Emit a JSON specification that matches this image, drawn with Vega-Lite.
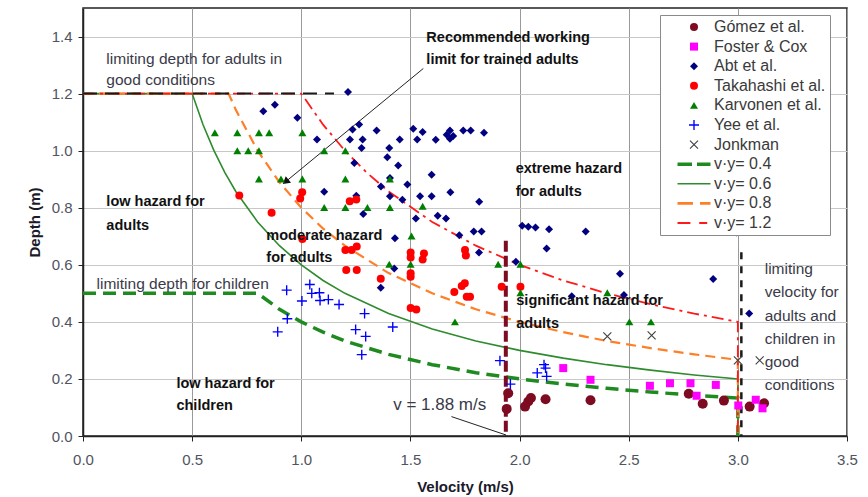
{
  "$schema": "https://vega.github.io/schema/vega-lite/v6.json",
  "width": 764,
  "height": 428,
  "autosize": {"type": "none"},
  "padding": {"left": 83, "top": 8, "right": 21, "bottom": 61},
  "background": "white",
  "config": {
    "view": {"stroke": "#222222", "strokeWidth": 1.5},
    "font": "Liberation Sans"
  },
  "datasets": {
    "pts": [
      {"series": "Gómez et al.", "v": 1.948, "d": 0.150},
      {"series": "Gómez et al.", "v": 1.941, "d": 0.095},
      {"series": "Gómez et al.", "v": 2.025, "d": 0.103},
      {"series": "Gómez et al.", "v": 2.040, "d": 0.121},
      {"series": "Gómez et al.", "v": 2.052, "d": 0.133},
      {"series": "Gómez et al.", "v": 2.119, "d": 0.129},
      {"series": "Gómez et al.", "v": 2.325, "d": 0.125},
      {"series": "Gómez et al.", "v": 2.775, "d": 0.148},
      {"series": "Gómez et al.", "v": 2.839, "d": 0.113},
      {"series": "Gómez et al.", "v": 2.936, "d": 0.124},
      {"series": "Gómez et al.", "v": 3.054, "d": 0.103},
      {"series": "Gómez et al.", "v": 3.120, "d": 0.115},
      {"series": "Foster & Cox", "v": 2.200, "d": 0.238},
      {"series": "Foster & Cox", "v": 2.325, "d": 0.197},
      {"series": "Foster & Cox", "v": 2.597, "d": 0.176},
      {"series": "Foster & Cox", "v": 2.689, "d": 0.185},
      {"series": "Foster & Cox", "v": 2.783, "d": 0.185},
      {"series": "Foster & Cox", "v": 2.899, "d": 0.179},
      {"series": "Foster & Cox", "v": 2.811, "d": 0.141},
      {"series": "Foster & Cox", "v": 3.002, "d": 0.107},
      {"series": "Foster & Cox", "v": 3.082, "d": 0.127},
      {"series": "Foster & Cox", "v": 3.113, "d": 0.097},
      {"series": "Abt et al.", "v": 1.214, "d": 1.206},
      {"series": "Abt et al.", "v": 0.879, "d": 1.161},
      {"series": "Abt et al.", "v": 0.826, "d": 1.138},
      {"series": "Abt et al.", "v": 0.982, "d": 1.115},
      {"series": "Abt et al.", "v": 1.072, "d": 1.039},
      {"series": "Abt et al.", "v": 1.235, "d": 1.074},
      {"series": "Abt et al.", "v": 1.265, "d": 1.092},
      {"series": "Abt et al.", "v": 1.223, "d": 1.039},
      {"series": "Abt et al.", "v": 1.281, "d": 1.039},
      {"series": "Abt et al.", "v": 1.345, "d": 1.071},
      {"series": "Abt et al.", "v": 1.276, "d": 1.009},
      {"series": "Abt et al.", "v": 1.243, "d": 0.957},
      {"series": "Abt et al.", "v": 1.403, "d": 1.009},
      {"series": "Abt et al.", "v": 1.394, "d": 0.977},
      {"series": "Abt et al.", "v": 1.451, "d": 1.039},
      {"series": "Abt et al.", "v": 1.444, "d": 0.948},
      {"series": "Abt et al.", "v": 1.513, "d": 1.077},
      {"series": "Abt et al.", "v": 1.531, "d": 1.039},
      {"series": "Abt et al.", "v": 1.406, "d": 0.904},
      {"series": "Abt et al.", "v": 1.365, "d": 0.874},
      {"series": "Abt et al.", "v": 1.486, "d": 0.881},
      {"series": "Abt et al.", "v": 1.406, "d": 0.840},
      {"series": "Abt et al.", "v": 1.105, "d": 0.856},
      {"series": "Abt et al.", "v": 1.252, "d": 0.842},
      {"series": "Abt et al.", "v": 1.284, "d": 0.778},
      {"series": "Abt et al.", "v": 1.463, "d": 0.828},
      {"series": "Abt et al.", "v": 1.429, "d": 0.693},
      {"series": "Abt et al.", "v": 1.556, "d": 1.065},
      {"series": "Abt et al.", "v": 1.616, "d": 1.038},
      {"series": "Abt et al.", "v": 1.666, "d": 1.056},
      {"series": "Abt et al.", "v": 1.681, "d": 1.071},
      {"series": "Abt et al.", "v": 1.681, "d": 1.042},
      {"series": "Abt et al.", "v": 1.696, "d": 1.051},
      {"series": "Abt et al.", "v": 1.742, "d": 1.071},
      {"series": "Abt et al.", "v": 1.776, "d": 1.071},
      {"series": "Abt et al.", "v": 1.837, "d": 1.063},
      {"series": "Abt et al.", "v": 1.597, "d": 0.916},
      {"series": "Abt et al.", "v": 1.544, "d": 0.840},
      {"series": "Abt et al.", "v": 1.597, "d": 0.840},
      {"series": "Abt et al.", "v": 1.683, "d": 0.854},
      {"series": "Abt et al.", "v": 1.815, "d": 0.821},
      {"series": "Abt et al.", "v": 1.525, "d": 0.762},
      {"series": "Abt et al.", "v": 1.625, "d": 0.772},
      {"series": "Abt et al.", "v": 1.663, "d": 0.762},
      {"series": "Abt et al.", "v": 1.724, "d": 0.704},
      {"series": "Abt et al.", "v": 1.790, "d": 0.717},
      {"series": "Abt et al.", "v": 1.826, "d": 0.717},
      {"series": "Abt et al.", "v": 2.012, "d": 0.737},
      {"series": "Abt et al.", "v": 2.040, "d": 0.733},
      {"series": "Abt et al.", "v": 2.073, "d": 0.731},
      {"series": "Abt et al.", "v": 2.135, "d": 0.725},
      {"series": "Abt et al.", "v": 2.303, "d": 0.717},
      {"series": "Abt et al.", "v": 1.364, "d": 0.520},
      {"series": "Abt et al.", "v": 1.426, "d": 0.587},
      {"series": "Abt et al.", "v": 1.814, "d": 0.643},
      {"series": "Abt et al.", "v": 2.124, "d": 0.657},
      {"series": "Abt et al.", "v": 1.983, "d": 0.611},
      {"series": "Abt et al.", "v": 2.460, "d": 0.569},
      {"series": "Abt et al.", "v": 2.239, "d": 0.490},
      {"series": "Abt et al.", "v": 2.478, "d": 0.494},
      {"series": "Abt et al.", "v": 2.887, "d": 0.550},
      {"series": "Abt et al.", "v": 3.052, "d": 0.429},
      {"series": "Abt et al.", "v": 2.993, "d": 0.713},
      {"series": "Takahashi et al.", "v": 0.716, "d": 0.843},
      {"series": "Takahashi et al.", "v": 0.864, "d": 0.782},
      {"series": "Takahashi et al.", "v": 1.004, "d": 0.854},
      {"series": "Takahashi et al.", "v": 0.995, "d": 0.832},
      {"series": "Takahashi et al.", "v": 1.222, "d": 0.823},
      {"series": "Takahashi et al.", "v": 1.252, "d": 0.829},
      {"series": "Takahashi et al.", "v": 1.005, "d": 0.690},
      {"series": "Takahashi et al.", "v": 1.202, "d": 0.652},
      {"series": "Takahashi et al.", "v": 1.231, "d": 0.652},
      {"series": "Takahashi et al.", "v": 1.254, "d": 0.664},
      {"series": "Takahashi et al.", "v": 1.206, "d": 0.582},
      {"series": "Takahashi et al.", "v": 1.254, "d": 0.582},
      {"series": "Takahashi et al.", "v": 1.364, "d": 0.551},
      {"series": "Takahashi et al.", "v": 1.501, "d": 0.643},
      {"series": "Takahashi et al.", "v": 1.501, "d": 0.626},
      {"series": "Takahashi et al.", "v": 1.501, "d": 0.570},
      {"series": "Takahashi et al.", "v": 1.501, "d": 0.558},
      {"series": "Takahashi et al.", "v": 1.501, "d": 0.449},
      {"series": "Takahashi et al.", "v": 1.527, "d": 0.443},
      {"series": "Takahashi et al.", "v": 1.562, "d": 0.640},
      {"series": "Takahashi et al.", "v": 1.556, "d": 0.619},
      {"series": "Takahashi et al.", "v": 1.750, "d": 0.652},
      {"series": "Takahashi et al.", "v": 1.754, "d": 0.633},
      {"series": "Takahashi et al.", "v": 1.749, "d": 0.535},
      {"series": "Takahashi et al.", "v": 1.735, "d": 0.526},
      {"series": "Takahashi et al.", "v": 1.701, "d": 0.505},
      {"series": "Takahashi et al.", "v": 1.758, "d": 0.488},
      {"series": "Takahashi et al.", "v": 1.773, "d": 0.488},
      {"series": "Takahashi et al.", "v": 1.918, "d": 0.523},
      {"series": "Takahashi et al.", "v": 2.004, "d": 0.523},
      {"series": "Karvonen et al.", "v": 0.604, "d": 1.063},
      {"series": "Karvonen et al.", "v": 0.707, "d": 1.063},
      {"series": "Karvonen et al.", "v": 0.806, "d": 1.063},
      {"series": "Karvonen et al.", "v": 0.853, "d": 1.063},
      {"series": "Karvonen et al.", "v": 1.005, "d": 1.063},
      {"series": "Karvonen et al.", "v": 0.707, "d": 1.000},
      {"series": "Karvonen et al.", "v": 0.757, "d": 1.000},
      {"series": "Karvonen et al.", "v": 0.806, "d": 1.000},
      {"series": "Karvonen et al.", "v": 1.105, "d": 1.000},
      {"series": "Karvonen et al.", "v": 1.202, "d": 1.000},
      {"series": "Karvonen et al.", "v": 0.806, "d": 0.901},
      {"series": "Karvonen et al.", "v": 0.907, "d": 0.901},
      {"series": "Karvonen et al.", "v": 1.005, "d": 0.901},
      {"series": "Karvonen et al.", "v": 1.202, "d": 0.901},
      {"series": "Karvonen et al.", "v": 1.406, "d": 0.901},
      {"series": "Karvonen et al.", "v": 1.105, "d": 0.801},
      {"series": "Karvonen et al.", "v": 1.202, "d": 0.801},
      {"series": "Karvonen et al.", "v": 1.303, "d": 0.801},
      {"series": "Karvonen et al.", "v": 1.406, "d": 0.801},
      {"series": "Karvonen et al.", "v": 1.556, "d": 0.805},
      {"series": "Karvonen et al.", "v": 1.505, "d": 0.701},
      {"series": "Karvonen et al.", "v": 1.403, "d": 0.602},
      {"series": "Karvonen et al.", "v": 1.501, "d": 0.602},
      {"series": "Karvonen et al.", "v": 1.902, "d": 0.602},
      {"series": "Karvonen et al.", "v": 2.004, "d": 0.602},
      {"series": "Karvonen et al.", "v": 2.004, "d": 0.502},
      {"series": "Karvonen et al.", "v": 2.402, "d": 0.502},
      {"series": "Karvonen et al.", "v": 1.704, "d": 0.400},
      {"series": "Karvonen et al.", "v": 2.503, "d": 0.400},
      {"series": "Karvonen et al.", "v": 2.602, "d": 0.400},
      {"series": "Yee et al.", "v": 0.933, "d": 0.511},
      {"series": "Yee et al.", "v": 1.039, "d": 0.531},
      {"series": "Yee et al.", "v": 1.048, "d": 0.500},
      {"series": "Yee et al.", "v": 1.083, "d": 0.502},
      {"series": "Yee et al.", "v": 1.003, "d": 0.473},
      {"series": "Yee et al.", "v": 1.086, "d": 0.475},
      {"series": "Yee et al.", "v": 1.124, "d": 0.478},
      {"series": "Yee et al.", "v": 1.173, "d": 0.461},
      {"series": "Yee et al.", "v": 0.936, "d": 0.411},
      {"series": "Yee et al.", "v": 0.892, "d": 0.365},
      {"series": "Yee et al.", "v": 1.290, "d": 0.429},
      {"series": "Yee et al.", "v": 1.249, "d": 0.373},
      {"series": "Yee et al.", "v": 1.295, "d": 0.349},
      {"series": "Yee et al.", "v": 1.277, "d": 0.285},
      {"series": "Yee et al.", "v": 1.419, "d": 0.382},
      {"series": "Yee et al.", "v": 1.910, "d": 0.264},
      {"series": "Yee et al.", "v": 1.958, "d": 0.182},
      {"series": "Yee et al.", "v": 2.081, "d": 0.221},
      {"series": "Yee et al.", "v": 2.112, "d": 0.250},
      {"series": "Yee et al.", "v": 2.119, "d": 0.238},
      {"series": "Yee et al.", "v": 2.124, "d": 0.209},
      {"series": "Jonkman", "v": 2.402, "d": 0.349},
      {"series": "Jonkman", "v": 2.605, "d": 0.353},
      {"series": "Jonkman", "v": 3.000, "d": 0.265},
      {"series": "Jonkman", "v": 3.100, "d": 0.265}
    ],
    "curves": [
      {"series": "v·y= 0.4", "v": 0, "d": 0.5},
      {"series": "v·y= 0.4", "v": 0.8, "d": 0.5},
      {"series": "v·y= 0.4", "v": 0.9, "d": 0.444},
      {"series": "v·y= 0.4", "v": 1.0, "d": 0.4},
      {"series": "v·y= 0.4", "v": 1.1, "d": 0.364},
      {"series": "v·y= 0.4", "v": 1.2, "d": 0.333},
      {"series": "v·y= 0.4", "v": 1.4, "d": 0.286},
      {"series": "v·y= 0.4", "v": 1.6, "d": 0.25},
      {"series": "v·y= 0.4", "v": 1.8, "d": 0.222},
      {"series": "v·y= 0.4", "v": 2.0, "d": 0.2},
      {"series": "v·y= 0.4", "v": 2.2, "d": 0.182},
      {"series": "v·y= 0.4", "v": 2.4, "d": 0.167},
      {"series": "v·y= 0.4", "v": 2.6, "d": 0.154},
      {"series": "v·y= 0.4", "v": 2.8, "d": 0.143},
      {"series": "v·y= 0.4", "v": 3.0, "d": 0.133},
      {"series": "v·y= 0.4", "v": 3.0, "d": 0},
      {"series": "v·y= 0.6", "v": 0, "d": 1.2},
      {"series": "v·y= 0.6", "v": 0.5, "d": 1.2},
      {"series": "v·y= 0.6", "v": 0.55, "d": 1.091},
      {"series": "v·y= 0.6", "v": 0.6, "d": 1.0},
      {"series": "v·y= 0.6", "v": 0.65, "d": 0.923},
      {"series": "v·y= 0.6", "v": 0.7, "d": 0.857},
      {"series": "v·y= 0.6", "v": 0.8, "d": 0.75},
      {"series": "v·y= 0.6", "v": 0.9, "d": 0.667},
      {"series": "v·y= 0.6", "v": 1.0, "d": 0.6},
      {"series": "v·y= 0.6", "v": 1.1, "d": 0.545},
      {"series": "v·y= 0.6", "v": 1.2, "d": 0.5},
      {"series": "v·y= 0.6", "v": 1.4, "d": 0.429},
      {"series": "v·y= 0.6", "v": 1.6, "d": 0.375},
      {"series": "v·y= 0.6", "v": 1.8, "d": 0.333},
      {"series": "v·y= 0.6", "v": 2.0, "d": 0.3},
      {"series": "v·y= 0.6", "v": 2.2, "d": 0.273},
      {"series": "v·y= 0.6", "v": 2.4, "d": 0.25},
      {"series": "v·y= 0.6", "v": 2.6, "d": 0.231},
      {"series": "v·y= 0.6", "v": 2.8, "d": 0.214},
      {"series": "v·y= 0.6", "v": 3.0, "d": 0.2},
      {"series": "v·y= 0.6", "v": 3.0, "d": 0},
      {"series": "v·y= 0.8", "v": 0, "d": 1.2},
      {"series": "v·y= 0.8", "v": 0.667, "d": 1.2},
      {"series": "v·y= 0.8", "v": 0.7, "d": 1.143},
      {"series": "v·y= 0.8", "v": 0.8, "d": 1.0},
      {"series": "v·y= 0.8", "v": 0.9, "d": 0.889},
      {"series": "v·y= 0.8", "v": 1.0, "d": 0.8},
      {"series": "v·y= 0.8", "v": 1.1, "d": 0.727},
      {"series": "v·y= 0.8", "v": 1.2, "d": 0.667},
      {"series": "v·y= 0.8", "v": 1.4, "d": 0.571},
      {"series": "v·y= 0.8", "v": 1.6, "d": 0.5},
      {"series": "v·y= 0.8", "v": 1.8, "d": 0.444},
      {"series": "v·y= 0.8", "v": 2.0, "d": 0.4},
      {"series": "v·y= 0.8", "v": 2.2, "d": 0.364},
      {"series": "v·y= 0.8", "v": 2.4, "d": 0.333},
      {"series": "v·y= 0.8", "v": 2.6, "d": 0.308},
      {"series": "v·y= 0.8", "v": 2.8, "d": 0.286},
      {"series": "v·y= 0.8", "v": 3.0, "d": 0.267},
      {"series": "v·y= 0.8", "v": 3.0, "d": 0},
      {"series": "v·y= 1.2", "v": 0, "d": 1.2},
      {"series": "v·y= 1.2", "v": 1.0, "d": 1.2},
      {"series": "v·y= 1.2", "v": 1.1, "d": 1.091},
      {"series": "v·y= 1.2", "v": 1.2, "d": 1.0},
      {"series": "v·y= 1.2", "v": 1.3, "d": 0.923},
      {"series": "v·y= 1.2", "v": 1.4, "d": 0.857},
      {"series": "v·y= 1.2", "v": 1.6, "d": 0.75},
      {"series": "v·y= 1.2", "v": 1.8, "d": 0.667},
      {"series": "v·y= 1.2", "v": 2.0, "d": 0.6},
      {"series": "v·y= 1.2", "v": 2.2, "d": 0.545},
      {"series": "v·y= 1.2", "v": 2.4, "d": 0.5},
      {"series": "v·y= 1.2", "v": 2.6, "d": 0.462},
      {"series": "v·y= 1.2", "v": 2.8, "d": 0.429},
      {"series": "v·y= 1.2", "v": 3.0, "d": 0.4},
      {"series": "v·y= 1.2", "v": 3.0, "d": 0}
    ],
    "notes": [
      {"t": "limiting depth for adults in", "v": 0.107, "d": 1.322},
      {"t": "good conditions", "v": 0.107, "d": 1.247},
      {"t": "limiting depth for children", "v": 0.062, "d": 0.531},
      {"t": "limiting", "v": 3.123, "d": 0.584},
      {"t": "velocity for", "v": 3.123, "d": 0.504},
      {"t": "adults and", "v": 3.123, "d": 0.422},
      {"t": "children in", "v": 3.123, "d": 0.341},
      {"t": "good", "v": 3.123, "d": 0.261},
      {"t": "conditions", "v": 3.123, "d": 0.179}
    ],
    "speedNote": [
      {"t": "v = 1.88 m/s", "v": 1.421, "d": 0.107}
    ],
    "boldNotes": [
      {"t": "Recommended working", "v": 1.573, "d": 1.396},
      {"t": "limit for trained adults", "v": 1.573, "d": 1.317},
      {"t": "low hazard for", "v": 0.107, "d": 0.819},
      {"t": "adults", "v": 0.107, "d": 0.737},
      {"t": "moderate hazard", "v": 0.84, "d": 0.701},
      {"t": "for adults", "v": 0.84, "d": 0.623},
      {"t": "extreme hazard", "v": 1.982, "d": 0.934},
      {"t": "for adults", "v": 1.982, "d": 0.854},
      {"t": "significant hazard for", "v": 1.985, "d": 0.473},
      {"t": "adults", "v": 1.985, "d": 0.393},
      {"t": "low hazard for", "v": 0.428, "d": 0.182},
      {"t": "children", "v": 0.428, "d": 0.106}
    ]
  },
  "encoding": {
    "x": {
      "field": "v", "type": "quantitative",
      "scale": {"domain": [0, 3.5], "nice": false, "zero": false},
      "axis": {
        "values": [0, 0.5, 1, 1.5, 2, 2.5, 3, 3.5], "format": ".1f",
        "title": "Velocity (m/s)", "grid": true, "gridColor": "#9a9a9a", "gridWidth": 1,
        "tickSize": 5, "tickColor": "#222222", "domainColor": "#222222", "domainWidth": 1.5,
        "labelFont": "Liberation Sans", "labelFontSize": 15, "labelColor": "#4f5461",
        "labelPadding": 11, "labelFlush": false, "labelOverlap": false,
        "titleFont": "Liberation Sans", "titleFontSize": 15, "titleFontWeight": "bold",
        "titleColor": "#1a1a2a", "titlePadding": 12
      }
    },
    "y": {
      "field": "d", "type": "quantitative",
      "scale": {"domain": [0, 1.5], "nice": false, "zero": false},
      "axis": {
        "values": [0, 0.2, 0.4, 0.6, 0.8, 1.0, 1.2, 1.4], "format": ".1f",
        "title": "Depth (m)", "grid": true, "gridColor": "#c8c8c8", "gridWidth": 1,
        "tickSize": 5, "tickColor": "#222222", "domainColor": "#222222", "domainWidth": 1.5,
        "labelFont": "Liberation Sans", "labelFontSize": 15, "labelColor": "#4f5461",
        "labelPadding": 6, "labelFlush": false, "labelOverlap": false,
        "titleFont": "Liberation Sans", "titleFontSize": 15, "titleFontWeight": "bold",
        "titleColor": "#1a1a2a", "titlePadding": 9
      }
    }
  },
  "layer": [
    {
      "data": {"name": "curves"},
      "transform": [{"filter": {"field": "series", "equal": "v·y= 0.4"}}],
      "mark": {"type": "line", "color": "#1f8a1f", "strokeWidth": 3.5, "strokeDash": [13, 7]},
      "encoding": {
        "order": [{"field": "v", "type": "quantitative"}, {"field": "d", "type": "quantitative", "sort": "descending"}]
      }
    },
    {
      "data": {"name": "curves"},
      "transform": [{"filter": {"field": "series", "equal": "v·y= 0.6"}}],
      "mark": {"type": "line", "color": "#2e8b2e", "strokeWidth": 1.6},
      "encoding": {
        "order": [{"field": "v", "type": "quantitative"}, {"field": "d", "type": "quantitative", "sort": "descending"}]
      }
    },
    {
      "data": {"name": "curves"},
      "transform": [{"filter": {"field": "series", "equal": "v·y= 0.8"}}],
      "mark": {"type": "line", "color": "#ff7f27", "strokeWidth": 2.2, "strokeDash": [10, 6]},
      "encoding": {
        "order": [{"field": "v", "type": "quantitative"}, {"field": "d", "type": "quantitative", "sort": "descending"}]
      }
    },
    {
      "data": {"name": "curves"},
      "transform": [{"filter": {"field": "series", "equal": "v·y= 1.2"}}],
      "mark": {"type": "line", "color": "#ff1a1a", "strokeWidth": 1.8, "strokeDash": [12, 5, 3, 5]},
      "encoding": {
        "order": [{"field": "v", "type": "quantitative"}, {"field": "d", "type": "quantitative", "sort": "descending"}]
      }
    },
    {
      "data": {"values": [{"v": 0, "d": 1.2}, {"v": 1.15, "d": 1.2}]},
      "mark": {"type": "line", "color": "#1a1a1a", "strokeWidth": 2, "strokeDash": [14, 8]},
      "encoding": {}
    },
    {
      "data": {"values": [{"v": 3.016, "d": 0.644}, {"v": 3.016, "d": 0}]},
      "mark": {"type": "line", "color": "#1a1a1a", "strokeWidth": 2.5, "strokeDash": [7, 7]},
      "encoding": {}
    },
    {
      "data": {"values": [{"v": 1.937, "d": 0.684}, {"v": 1.937, "d": 0}]},
      "mark": {"type": "line", "color": "#7d0b22", "strokeWidth": 4, "strokeDash": [11, 4]},
      "encoding": {}
    },
    {
      "data": {"values": [{"v": 1.688, "d": 0.068}, {"v": 1.938, "d": 0.0035}]},
      "mark": {"type": "line", "color": "#222222", "strokeWidth": 1},
      "encoding": {}
    },
    {
      "data": {"values": [{"v": 1.559, "d": 1.288}, {"v": 0.928, "d": 0.891}]},
      "mark": {"type": "line", "color": "#222222", "strokeWidth": 1},
      "encoding": {}
    },
    {
      "data": {"values": [{"v": 0.928, "d": 0.891}]},
      "mark": {"type": "point", "shape": "triangle-up", "angle": 231, "filled": true, "color": "#111111", "size": 70, "opacity": 1},
      "encoding": {}
    },
    {
      "data": {"name": "pts"},
      "transform": [{"filter": {"field": "series", "equal": "Gómez et al."}}],
      "mark": {"type": "point", "filled": true, "opacity": 1, "size": 100},
      "encoding": {
        "color": {"field": "series", "type": "nominal",
          "scale": {"domain": ["Gómez et al.", "Foster & Cox", "Abt et al.", "Takahashi et al.", "Karvonen et al.", "Yee et al.", "Jonkman", "v·y= 0.4", "v·y= 0.6", "v·y= 0.8", "v·y= 1.2"],
                    "range": ["#7d0b22", "#ff00ff", "#000080", "#ff0000", "#008000", "#0000ff", "#404040", "#1f8a1f", "#2e8b2e", "#ff7f27", "#ff1a1a"]},
          "legend": {"title": null, "orient": "none", "legendX": 577, "legendY": 7, "padding": 4,
            "fillColor": "white", "strokeColor": "#8a8a8a", "labelFont": "Liberation Sans",
            "labelFontSize": 16, "labelColor": "#3a3a3a", "labelOffset": 12, "symbolOffset": 22,
            "rowPadding": 3.6, "symbolSize": 64, "symbolStrokeWidth": 0, "symbolOpacity": 1}},
        "shape": {"field": "series", "type": "nominal",
          "scale": {"domain": ["Gómez et al.", "Foster & Cox", "Abt et al.", "Takahashi et al.", "Karvonen et al.", "Yee et al.", "Jonkman", "v·y= 0.4", "v·y= 0.6", "v·y= 0.8", "v·y= 1.2"],
                    "range": ["circle", "square", "diamond", "circle", "triangle-up",
                              "M-1.25,-0.17H1.25V0.17H-1.25Z M-0.17,-1.25H0.17V1.25H-0.17Z",
                              "M-1.1,-0.9L0.9,1.1L1.1,0.9L-0.9,-1.1Z M-0.9,1.1L1.1,-0.9L0.9,-1.1L-1.1,0.9Z",
                              "M-4.125,-0.44H-0.5V0.44H-4.125Z M0.75,-0.44H4.125V0.44H0.75Z",
                              "M-4.125,-0.2H4.125V0.2H-4.125Z",
                              "M-4.125,-0.36H-0.25V0.36H-4.125Z M1.5,-0.36H4.125V0.36H1.5Z",
                              "M-4.125,-0.27H-0.9V0.27H-4.125Z M1.3,-0.27H3.3V0.27H1.3Z"]},
          "legend": {"title": null, "orient": "none", "legendX": 577, "legendY": 7, "padding": 4,
            "fillColor": "white", "strokeColor": "#8a8a8a", "labelFont": "Liberation Sans",
            "labelFontSize": 16, "labelColor": "#3a3a3a", "labelOffset": 12, "symbolOffset": 22,
            "rowPadding": 3.6, "symbolSize": 64, "symbolStrokeWidth": 0, "symbolOpacity": 1}}
      }
    },
    {
      "data": {"name": "pts"},
      "transform": [{"filter": "datum.series !== 'Gómez et al.'"}],
      "mark": {"type": "point", "filled": true, "opacity": 1, "size": 64},
      "encoding": {
        "color": {"field": "series", "type": "nominal",
          "scale": {"domain": ["Gómez et al.", "Foster & Cox", "Abt et al.", "Takahashi et al.", "Karvonen et al.", "Yee et al.", "Jonkman", "v·y= 0.4", "v·y= 0.6", "v·y= 0.8", "v·y= 1.2"],
                    "range": ["#7d0b22", "#ff00ff", "#000080", "#ff0000", "#008000", "#0000ff", "#404040", "#1f8a1f", "#2e8b2e", "#ff7f27", "#ff1a1a"]},
          "legend": {"title": null, "orient": "none", "legendX": 577, "legendY": 7, "padding": 4,
            "fillColor": "white", "strokeColor": "#8a8a8a", "labelFont": "Liberation Sans",
            "labelFontSize": 16, "labelColor": "#3a3a3a", "labelOffset": 12, "symbolOffset": 22,
            "rowPadding": 3.6, "symbolSize": 64, "symbolStrokeWidth": 0, "symbolOpacity": 1}},
        "shape": {"field": "series", "type": "nominal",
          "scale": {"domain": ["Gómez et al.", "Foster & Cox", "Abt et al.", "Takahashi et al.", "Karvonen et al.", "Yee et al.", "Jonkman", "v·y= 0.4", "v·y= 0.6", "v·y= 0.8", "v·y= 1.2"],
                    "range": ["circle", "square", "diamond", "circle", "triangle-up",
                              "M-1.25,-0.17H1.25V0.17H-1.25Z M-0.17,-1.25H0.17V1.25H-0.17Z",
                              "M-1.1,-0.9L0.9,1.1L1.1,0.9L-0.9,-1.1Z M-0.9,1.1L1.1,-0.9L0.9,-1.1L-1.1,0.9Z",
                              "M-4.125,-0.44H-0.5V0.44H-4.125Z M0.75,-0.44H4.125V0.44H0.75Z",
                              "M-4.125,-0.2H4.125V0.2H-4.125Z",
                              "M-4.125,-0.36H-0.25V0.36H-4.125Z M1.5,-0.36H4.125V0.36H1.5Z",
                              "M-4.125,-0.27H-0.9V0.27H-4.125Z M1.3,-0.27H3.3V0.27H1.3Z"]},
          "legend": {"title": null, "orient": "none", "legendX": 577, "legendY": 7, "padding": 4,
            "fillColor": "white", "strokeColor": "#8a8a8a", "labelFont": "Liberation Sans",
            "labelFontSize": 16, "labelColor": "#3a3a3a", "labelOffset": 12, "symbolOffset": 22,
            "rowPadding": 3.6, "symbolSize": 64, "symbolStrokeWidth": 0, "symbolOpacity": 1}}
      }
    },
    {
      "data": {"name": "notes"},
      "mark": {"type": "text", "align": "left", "baseline": "middle", "font": "Liberation Sans", "fontSize": 15.5, "color": "#3a3a48"},
      "encoding": {"text": {"field": "t"}}
    },
    {
      "data": {"name": "speedNote"},
      "mark": {"type": "text", "align": "left", "baseline": "middle", "font": "Liberation Sans", "fontSize": 17, "color": "#3a3a48"},
      "encoding": {"text": {"field": "t"}}
    },
    {
      "data": {"name": "boldNotes"},
      "mark": {"type": "text", "align": "left", "baseline": "middle", "font": "Liberation Sans", "fontSize": 14.5, "fontWeight": "bold", "color": "#111111"},
      "encoding": {"text": {"field": "t"}}
    }
  ]
}
